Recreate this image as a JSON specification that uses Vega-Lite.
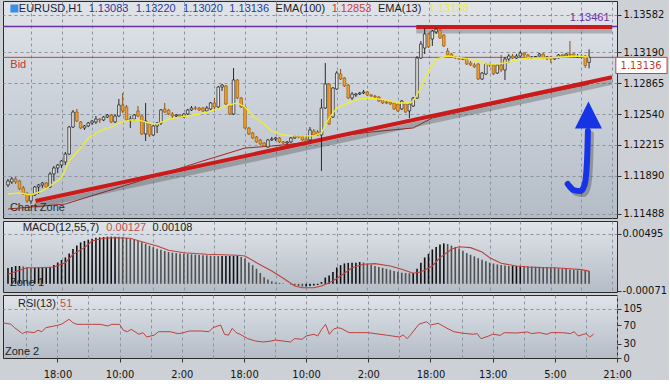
{
"$schema":"https://vega.github.io/schema/vega-lite/v6.json",
"background":"#cdd0d4",
"padding":0,
"spacing":3,
"bounds":"flush",
"config":{
 "view":{"stroke":"#2b2b2b","strokeWidth":1,"fill":{"gradient":"linear","x1":0,"y1":0,"x2":0,"y2":1,"stops":[{"offset":0,"color":"#e0e4e9"},{"offset":1,"color":"#b4bcc6"}]}},
 "axis":{"labelFont":"DejaVu Sans Condensed","labelFontSize":11,"labelColor":"#141414","tickColor":"#333333","tickSize":4,"domain":false,"gridColor":"#8a94a1","gridDash":[3,3],"gridWidth":1,"labelOverlap":false,"labelFlush":false,"labelPadding":2},
 "text":{"font":"Liberation Sans","fontSize":11}
},
"datasets":{
 "candles":[
{"i":-14,"o":1.11793,"h":1.11856,"l":1.11772,"c":1.11835},
{"i":-13,"o":1.11825,"h":1.11877,"l":1.11804,"c":1.11856},
{"i":-12,"o":1.11856,"h":1.11877,"l":1.11804,"c":1.11825},
{"i":-11,"o":1.11835,"h":1.11846,"l":1.11740,"c":1.11751},
{"i":-10,"o":1.11762,"h":1.11783,"l":1.11688,"c":1.11698},
{"i":-9,"o":1.11698,"h":1.11720,"l":1.11604,"c":1.11625},
{"i":-8,"o":1.11625,"h":1.11698,"l":1.11593,"c":1.11688},
{"i":-7,"o":1.11688,"h":1.11783,"l":1.11677,"c":1.11772},
{"i":-6,"o":1.11772,"h":1.11804,"l":1.11698,"c":1.11793},
{"i":-5,"o":1.11793,"h":1.11825,"l":1.11762,"c":1.11814},
{"i":-4,"o":1.11814,"h":1.11825,"l":1.11762,"c":1.11772},
{"i":-3,"o":1.11772,"h":1.11930,"l":1.11762,"c":1.11909},
{"i":-2,"o":1.11909,"h":1.11993,"l":1.11835,"c":1.11972},
{"i":-1,"o":1.11972,"h":1.12014,"l":1.11919,"c":1.12003},
{"i":0,"o":1.12003,"h":1.12056,"l":1.11972,"c":1.12046},
{"i":1,"o":1.12035,"h":1.12140,"l":1.12003,"c":1.12119},
{"i":2,"o":1.12119,"h":1.12414,"l":1.12109,"c":1.12403},
{"i":3,"o":1.12403,"h":1.12582,"l":1.12393,"c":1.12561},
{"i":4,"o":1.12561,"h":1.12593,"l":1.12456,"c":1.12466},
{"i":5,"o":1.12456,"h":1.12466,"l":1.12382,"c":1.12393},
{"i":6,"o":1.12393,"h":1.12424,"l":1.12372,"c":1.12414},
{"i":7,"o":1.12414,"h":1.12456,"l":1.12403,"c":1.12445},
{"i":8,"o":1.12445,"h":1.12477,"l":1.12424,"c":1.12466},
{"i":9,"o":1.12456,"h":1.12519,"l":1.12435,"c":1.12487},
{"i":10,"o":1.12487,"h":1.12498,"l":1.12445,"c":1.12477},
{"i":11,"o":1.12477,"h":1.12519,"l":1.12466,"c":1.12508},
{"i":12,"o":1.12508,"h":1.12540,"l":1.12498,"c":1.12529},
{"i":13,"o":1.12529,"h":1.12540,"l":1.12445,"c":1.12456},
{"i":14,"o":1.12456,"h":1.12540,"l":1.12445,"c":1.12519},
{"i":15,"o":1.12519,"h":1.12698,"l":1.12508,"c":1.12635},
{"i":16,"o":1.12635,"h":1.12761,"l":1.12551,"c":1.12572},
{"i":17,"o":1.12614,"h":1.12635,"l":1.12466,"c":1.12477},
{"i":18,"o":1.12477,"h":1.12519,"l":1.12393,"c":1.12487},
{"i":19,"o":1.12487,"h":1.12540,"l":1.12466,"c":1.12529},
{"i":20,"o":1.12572,"h":1.12624,"l":1.12508,"c":1.12519},
{"i":21,"o":1.12519,"h":1.12529,"l":1.12319,"c":1.12330},
{"i":22,"o":1.12330,"h":1.12656,"l":1.12256,"c":1.12466},
{"i":23,"o":1.12435,"h":1.12445,"l":1.12298,"c":1.12319},
{"i":24,"o":1.12319,"h":1.12424,"l":1.12309,"c":1.12414},
{"i":25,"o":1.12414,"h":1.12456,"l":1.12340,"c":1.12445},
{"i":26,"o":1.12445,"h":1.12593,"l":1.12424,"c":1.12582},
{"i":27,"o":1.12593,"h":1.12656,"l":1.12551,"c":1.12561},
{"i":28,"o":1.12582,"h":1.12593,"l":1.12529,"c":1.12540},
{"i":29,"o":1.12540,"h":1.12561,"l":1.12498,"c":1.12519},
{"i":30,"o":1.12519,"h":1.12540,"l":1.12498,"c":1.12529},
{"i":31,"o":1.12529,"h":1.12540,"l":1.12498,"c":1.12508},
{"i":32,"o":1.12508,"h":1.12551,"l":1.12498,"c":1.12540},
{"i":33,"o":1.12540,"h":1.12593,"l":1.12529,"c":1.12582},
{"i":34,"o":1.12582,"h":1.12624,"l":1.12572,"c":1.12603},
{"i":35,"o":1.12603,"h":1.12624,"l":1.12582,"c":1.12600},
{"i":36,"o":1.12603,"h":1.12614,"l":1.12572,"c":1.12582},
{"i":37,"o":1.12603,"h":1.12614,"l":1.12561,"c":1.12572},
{"i":38,"o":1.12572,"h":1.12624,"l":1.12561,"c":1.12603},
{"i":39,"o":1.12593,"h":1.12666,"l":1.12582,"c":1.12656},
{"i":40,"o":1.12656,"h":1.12708,"l":1.12582,"c":1.12614},
{"i":41,"o":1.12614,"h":1.12835,"l":1.12603,"c":1.12824},
{"i":42,"o":1.12824,"h":1.12856,"l":1.12782,"c":1.12845},
{"i":43,"o":1.12835,"h":1.12845,"l":1.12635,"c":1.12645},
{"i":44,"o":1.12624,"h":1.12635,"l":1.12529,"c":1.12540},
{"i":45,"o":1.12540,"h":1.13024,"l":1.12529,"c":1.12898},
{"i":46,"o":1.12898,"h":1.12908,"l":1.12698,"c":1.12708},
{"i":47,"o":1.12708,"h":1.12719,"l":1.12603,"c":1.12614},
{"i":48,"o":1.12614,"h":1.12624,"l":1.12382,"c":1.12393},
{"i":49,"o":1.12393,"h":1.12403,"l":1.12319,"c":1.12330},
{"i":50,"o":1.12340,"h":1.12351,"l":1.12277,"c":1.12288},
{"i":51,"o":1.12298,"h":1.12309,"l":1.12235,"c":1.12246},
{"i":52,"o":1.12267,"h":1.12277,"l":1.12214,"c":1.12225},
{"i":53,"o":1.12235,"h":1.12246,"l":1.12193,"c":1.12203},
{"i":54,"o":1.12193,"h":1.12277,"l":1.12182,"c":1.12267},
{"i":55,"o":1.12267,"h":1.12298,"l":1.12256,"c":1.12277},
{"i":56,"o":1.12277,"h":1.12298,"l":1.12256,"c":1.12288},
{"i":57,"o":1.12288,"h":1.12298,"l":1.12235,"c":1.12246},
{"i":58,"o":1.12246,"h":1.12256,"l":1.12225,"c":1.12235},
{"i":59,"o":1.12235,"h":1.12256,"l":1.12225,"c":1.12246},
{"i":60,"o":1.12246,"h":1.12298,"l":1.12235,"c":1.12288},
{"i":61,"o":1.12288,"h":1.12319,"l":1.12277,"c":1.12309},
{"i":62,"o":1.12309,"h":1.12319,"l":1.12288,"c":1.12298},
{"i":63,"o":1.12309,"h":1.12319,"l":1.12256,"c":1.12267},
{"i":64,"o":1.12277,"h":1.12319,"l":1.12246,"c":1.12256},
{"i":65,"o":1.12267,"h":1.12403,"l":1.12256,"c":1.12372},
{"i":66,"o":1.12361,"h":1.12382,"l":1.12309,"c":1.12319},
{"i":67,"o":1.12351,"h":1.12372,"l":1.12309,"c":1.12319},
{"i":68,"o":1.12319,"h":1.12698,"l":1.11940,"c":1.12603},
{"i":69,"o":1.12603,"h":1.13077,"l":1.12593,"c":1.12856},
{"i":70,"o":1.12856,"h":1.12866,"l":1.12424,"c":1.12435},
{"i":71,"o":1.12508,"h":1.12824,"l":1.12498,"c":1.12814},
{"i":72,"o":1.12803,"h":1.12992,"l":1.12793,"c":1.12971},
{"i":73,"o":1.12961,"h":1.13014,"l":1.12898,"c":1.12908},
{"i":74,"o":1.12919,"h":1.12929,"l":1.12824,"c":1.12835},
{"i":75,"o":1.12845,"h":1.12856,"l":1.12698,"c":1.12708},
{"i":76,"o":1.12708,"h":1.12772,"l":1.12687,"c":1.12750},
{"i":77,"o":1.12740,"h":1.12761,"l":1.12719,"c":1.12750},
{"i":78,"o":1.12750,"h":1.12772,"l":1.12740,"c":1.12761},
{"i":79,"o":1.12761,"h":1.12793,"l":1.12750,"c":1.12772},
{"i":80,"o":1.12772,"h":1.12782,"l":1.12729,"c":1.12740},
{"i":81,"o":1.12740,"h":1.12750,"l":1.12719,"c":1.12729},
{"i":82,"o":1.12729,"h":1.12740,"l":1.12708,"c":1.12719},
{"i":83,"o":1.12719,"h":1.12729,"l":1.12666,"c":1.12677},
{"i":84,"o":1.12687,"h":1.12698,"l":1.12645,"c":1.12656},
{"i":85,"o":1.12666,"h":1.12677,"l":1.12645,"c":1.12656},
{"i":86,"o":1.12666,"h":1.12677,"l":1.12635,"c":1.12645},
{"i":87,"o":1.12656,"h":1.12666,"l":1.12582,"c":1.12593},
{"i":88,"o":1.12645,"h":1.12656,"l":1.12561,"c":1.12572},
{"i":89,"o":1.12593,"h":1.12687,"l":1.12582,"c":1.12677},
{"i":90,"o":1.12645,"h":1.12656,"l":1.12551,"c":1.12561},
{"i":91,"o":1.12572,"h":1.12656,"l":1.12498,"c":1.12645},
{"i":92,"o":1.12624,"h":1.12719,"l":1.12614,"c":1.12708},
{"i":93,"o":1.12708,"h":1.13150,"l":1.12698,"c":1.13129},
{"i":94,"o":1.13129,"h":1.13308,"l":1.13119,"c":1.13277},
{"i":95,"o":1.13234,"h":1.13445,"l":1.13171,"c":1.13382},
{"i":96,"o":1.13382,"h":1.13392,"l":1.13234,"c":1.13245},
{"i":97,"o":1.13329,"h":1.13424,"l":1.13256,"c":1.13413},
{"i":98,"o":1.13403,"h":1.13445,"l":1.13382,"c":1.13434},
{"i":99,"o":1.13424,"h":1.13434,"l":1.13329,"c":1.13340},
{"i":100,"o":1.13371,"h":1.13382,"l":1.13245,"c":1.13256},
{"i":101,"o":1.13203,"h":1.13234,"l":1.13150,"c":1.13161},
{"i":102,"o":1.13171,"h":1.13182,"l":1.13129,"c":1.13140},
{"i":103,"o":1.13140,"h":1.13150,"l":1.13119,"c":1.13129},
{"i":104,"o":1.13129,"h":1.13140,"l":1.13108,"c":1.13119},
{"i":105,"o":1.13119,"h":1.13129,"l":1.13108,"c":1.13113},
{"i":106,"o":1.13119,"h":1.13129,"l":1.13056,"c":1.13066},
{"i":107,"o":1.13077,"h":1.13098,"l":1.13045,"c":1.13056},
{"i":108,"o":1.13056,"h":1.13077,"l":1.13024,"c":1.13035},
{"i":109,"o":1.13066,"h":1.13077,"l":1.12898,"c":1.12908},
{"i":110,"o":1.12908,"h":1.12982,"l":1.12898,"c":1.12971},
{"i":111,"o":1.12961,"h":1.13077,"l":1.12950,"c":1.13066},
{"i":112,"o":1.13066,"h":1.13077,"l":1.13035,"c":1.13056},
{"i":113,"o":1.13056,"h":1.13066,"l":1.12950,"c":1.12961},
{"i":114,"o":1.12971,"h":1.13066,"l":1.12961,"c":1.13056},
{"i":115,"o":1.13056,"h":1.13161,"l":1.12982,"c":1.13003},
{"i":116,"o":1.13003,"h":1.13140,"l":1.12898,"c":1.13119},
{"i":117,"o":1.13119,"h":1.13171,"l":1.13077,"c":1.13150},
{"i":118,"o":1.13150,"h":1.13171,"l":1.13119,"c":1.13129},
{"i":119,"o":1.13129,"h":1.13171,"l":1.13119,"c":1.13150},
{"i":120,"o":1.13150,"h":1.13203,"l":1.13140,"c":1.13182},
{"i":121,"o":1.13182,"h":1.13192,"l":1.13140,"c":1.13161},
{"i":122,"o":1.13161,"h":1.13171,"l":1.13119,"c":1.13129},
{"i":123,"o":1.13129,"h":1.13150,"l":1.13119,"c":1.13140},
{"i":124,"o":1.13140,"h":1.13150,"l":1.13129,"c":1.13145},
{"i":125,"o":1.13150,"h":1.13182,"l":1.13145,"c":1.13171},
{"i":126,"o":1.13171,"h":1.13182,"l":1.13119,"c":1.13129},
{"i":127,"o":1.13129,"h":1.13150,"l":1.13108,"c":1.13140},
{"i":128,"o":1.13140,"h":1.13150,"l":1.13077,"c":1.13119},
{"i":129,"o":1.13119,"h":1.13134,"l":1.13108,"c":1.13129},
{"i":130,"o":1.13129,"h":1.13171,"l":1.13124,"c":1.13161},
{"i":131,"o":1.13161,"h":1.13171,"l":1.13129,"c":1.13150},
{"i":132,"o":1.13150,"h":1.13182,"l":1.13145,"c":1.13171},
{"i":133,"o":1.13171,"h":1.13308,"l":1.13129,"c":1.13161},
{"i":134,"o":1.13171,"h":1.13182,"l":1.13129,"c":1.13140},
{"i":135,"o":1.13140,"h":1.13171,"l":1.13129,"c":1.13150},
{"i":136,"o":1.13150,"h":1.13171,"l":1.13119,"c":1.13140},
{"i":137,"o":1.13150,"h":1.13160,"l":1.13024,"c":1.13050},
{"i":138,"o":1.13083,"h":1.13220,"l":1.13020,"c":1.13136}
 ],
 "ema13":[
{"i":-14,"v":1.11698},{"i":-11,"v":1.11709},{"i":-8,"v":1.11688},{"i":-5,"v":1.11730},{"i":-3,"v":1.11783},{"i":0,"v":1.11867},{"i":2,"v":1.12046},{"i":5,"v":1.12182},{"i":7,"v":1.12288},{"i":10,"v":1.12361},{"i":13,"v":1.12403},{"i":15,"v":1.12445},{"i":18,"v":1.12477},{"i":20,"v":1.12477},{"i":23,"v":1.12445},{"i":25,"v":1.12435},{"i":28,"v":1.12487},{"i":31,"v":1.12508},{"i":33,"v":1.12519},{"i":36,"v":1.12540},{"i":38,"v":1.12561},{"i":41,"v":1.12593},{"i":43,"v":1.12625},{"i":46,"v":1.12656},{"i":48,"v":1.12614},{"i":50,"v":1.12519},{"i":53,"v":1.12435},{"i":55,"v":1.12361},{"i":58,"v":1.12319},{"i":61,"v":1.12309},{"i":63,"v":1.12309},{"i":66,"v":1.12309},{"i":68,"v":1.12340},{"i":69,"v":1.12424},{"i":70,"v":1.12498},{"i":72,"v":1.12603},{"i":75,"v":1.12656},{"i":78,"v":1.12698},{"i":81,"v":1.12708},{"i":85,"v":1.12687},{"i":88,"v":1.12656},{"i":91,"v":1.12656},{"i":92,"v":1.12677},{"i":94,"v":1.12814},{"i":96,"v":1.12992},{"i":98,"v":1.13119},{"i":101,"v":1.13150},{"i":105,"v":1.13129},{"i":109,"v":1.13098},{"i":111,"v":1.13066},{"i":114,"v":1.13066},{"i":116,"v":1.13077},{"i":119,"v":1.13108},{"i":122,"v":1.13129},{"i":127,"v":1.13129},{"i":131,"v":1.13140},{"i":135,"v":1.13150},{"i":138,"v":1.13138}
 ],
 "ema100":[
{"i":-14,"v":1.11540},{"i":1,"v":1.11593},{"i":12,"v":1.11730},{"i":23,"v":1.11867},{"i":37,"v":1.12046},{"i":48,"v":1.12182},{"i":55,"v":1.12203},{"i":63,"v":1.12235},{"i":71,"v":1.12298},{"i":81,"v":1.12351},{"i":92,"v":1.12393},{"i":97,"v":1.12498},{"i":109,"v":1.12603},{"i":122,"v":1.12719},{"i":138,"v":1.12853}
 ],
 "trend":[{"i":-6.8,"p":1.11625},{"i":144,"p":1.12926}],
 "res":[{"i":92.8,"p":1.13455},{"i":144,"p":1.13455}],
 "arrow":[{"i":132.42,"p":1.11804},{"i":133.97,"p":1.11740},{"i":135.77,"p":1.11730},{"i":136.8,"p":1.11793},{"i":137.31,"p":1.1194},{"i":137.57,"p":1.12151},{"i":137.7,"p":1.12361}],
 "macd":[
{"i":-14,"m":0.00156},{"i":-13,"m":0.00166},{"i":-12,"m":0.00176},{"i":-11,"m":0.00176},{"i":-10,"m":0.00171},{"i":-9,"m":0.00161},{"i":-8,"m":0.00156},{"i":-7,"m":0.00156},{"i":-6,"m":0.00159},{"i":-5,"m":0.00159},{"i":-4,"m":0.00161},{"i":-3,"m":0.00166},{"i":-2,"m":0.00186},{"i":-1,"m":0.0021},{"i":0,"m":0.00235},{"i":1,"m":0.0026},{"i":2,"m":0.00299},{"i":3,"m":0.00344},{"i":4,"m":0.00378},{"i":5,"m":0.00408},{"i":6,"m":0.00423},{"i":7,"m":0.00436},{"i":8,"m":0.00445},{"i":9,"m":0.00454},{"i":10,"m":0.00459},{"i":11,"m":0.00462},{"i":12,"m":0.00465},{"i":13,"m":0.00465},{"i":14,"m":0.00465},{"i":15,"m":0.00464},{"i":16,"m":0.00462},{"i":17,"m":0.00454},{"i":18,"m":0.00445},{"i":19,"m":0.00435},{"i":20,"m":0.00423},{"i":21,"m":0.0041},{"i":22,"m":0.00393},{"i":23,"m":0.00376},{"i":24,"m":0.00361},{"i":25,"m":0.00346},{"i":26,"m":0.00335},{"i":27,"m":0.00324},{"i":28,"m":0.00314},{"i":29,"m":0.00308},{"i":30,"m":0.00303},{"i":31,"m":0.00299},{"i":32,"m":0.00296},{"i":33,"m":0.00294},{"i":34,"m":0.00291},{"i":35,"m":0.00288},{"i":36,"m":0.00285},{"i":37,"m":0.00283},{"i":38,"m":0.00281},{"i":39,"m":0.00278},{"i":40,"m":0.00276},{"i":41,"m":0.00275},{"i":42,"m":0.00275},{"i":43,"m":0.00275},{"i":44,"m":0.00275},{"i":45,"m":0.00275},{"i":46,"m":0.00275},{"i":47,"m":0.00265},{"i":48,"m":0.0025},{"i":49,"m":0.0021},{"i":50,"m":0.00184},{"i":51,"m":0.00149},{"i":52,"m":0.00107},{"i":53,"m":0.00064},{"i":54,"m":0.00042},{"i":55,"m":0.00025},{"i":56,"m":0.00013},{"i":57,"m":0.00008},{"i":58,"m":0.00004},{"i":59,"m":0.00001},{"i":60,"m":-0.00007},{"i":61,"m":-0.00017},{"i":62,"m":-0.00022},{"i":63,"m":-0.00027},{"i":64,"m":-0.00027},{"i":65,"m":-0.00022},{"i":66,"m":-0.00017},{"i":67,"m":-0.00012},{"i":68,"m":0.00018},{"i":69,"m":0.00062},{"i":70,"m":0.00082},{"i":71,"m":0.00117},{"i":72,"m":0.00161},{"i":73,"m":0.00184},{"i":74,"m":0.00201},{"i":75,"m":0.00206},{"i":76,"m":0.00208},{"i":77,"m":0.00209},{"i":78,"m":0.00215},{"i":79,"m":0.00209},{"i":80,"m":0.00198},{"i":81,"m":0.00187},{"i":82,"m":0.00176},{"i":83,"m":0.00166},{"i":84,"m":0.00157},{"i":85,"m":0.00148},{"i":86,"m":0.00138},{"i":87,"m":0.00127},{"i":88,"m":0.00118},{"i":89,"m":0.0011},{"i":90,"m":0.00106},{"i":91,"m":0.00104},{"i":92,"m":0.00108},{"i":93,"m":0.00149},{"i":94,"m":0.00208},{"i":95,"m":0.0026},{"i":96,"m":0.00296},{"i":97,"m":0.00339},{"i":98,"m":0.00364},{"i":99,"m":0.00387},{"i":100,"m":0.00399},{"i":101,"m":0.00393},{"i":102,"m":0.00377},{"i":103,"m":0.00364},{"i":104,"m":0.00349},{"i":105,"m":0.00326},{"i":106,"m":0.00303},{"i":107,"m":0.00286},{"i":108,"m":0.00271},{"i":109,"m":0.00253},{"i":110,"m":0.00237},{"i":111,"m":0.00223},{"i":112,"m":0.00208},{"i":113,"m":0.002},{"i":114,"m":0.00191},{"i":115,"m":0.00185},{"i":116,"m":0.0018},{"i":117,"m":0.00176},{"i":118,"m":0.00176},{"i":119,"m":0.00176},{"i":120,"m":0.00176},{"i":121,"m":0.00175},{"i":122,"m":0.00173},{"i":123,"m":0.00171},{"i":124,"m":0.00169},{"i":125,"m":0.00168},{"i":126,"m":0.00167},{"i":127,"m":0.00166},{"i":128,"m":0.00163},{"i":129,"m":0.00158},{"i":130,"m":0.00153},{"i":131,"m":0.00148},{"i":132,"m":0.00145},{"i":133,"m":0.00141},{"i":134,"m":0.00137},{"i":135,"m":0.00134},{"i":136,"m":0.00132},{"i":137,"m":0.0013},{"i":138,"m":0.00127}
 ],
 "signal":[
{"i":-14,"s":0.00094},{"i":-11,"s":0.00133},{"i":-9,"s":0.00159},{"i":-6,"s":0.00159},{"i":-2,"s":0.00166},{"i":1,"s":0.00208},{"i":3,"s":0.00291},{"i":6,"s":0.00357},{"i":8,"s":0.00423},{"i":11,"s":0.00449},{"i":14,"s":0.00455},{"i":18,"s":0.00449},{"i":21,"s":0.00416},{"i":25,"s":0.00373},{"i":28,"s":0.00331},{"i":32,"s":0.00307},{"i":38,"s":0.00291},{"i":46,"s":0.00282},{"i":48,"s":0.00275},{"i":51,"s":0.00208},{"i":55,"s":0.00126},{"i":58,"s":0.00054},{"i":61,"s":-0.00022},{"i":63,"s":-0.00039},{"i":66,"s":-0.00039},{"i":68,"s":-0.00022},{"i":71,"s":0.00028},{"i":74,"s":0.00104},{"i":76,"s":0.00159},{"i":79,"s":0.00193},{"i":82,"s":0.00199},{"i":86,"s":0.00176},{"i":89,"s":0.00143},{"i":92,"s":0.00104},{"i":94,"s":0.00117},{"i":97,"s":0.00176},{"i":99,"s":0.00258},{"i":102,"s":0.00341},{"i":104,"s":0.00366},{"i":107,"s":0.00357},{"i":110,"s":0.00314},{"i":112,"s":0.00258},{"i":115,"s":0.00203},{"i":119,"s":0.00176},{"i":122,"s":0.00166},{"i":126,"s":0.00159},{"i":129,"s":0.00159},{"i":133,"s":0.00149},{"i":136,"s":0.0014},{"i":138,"s":0.00125}
 ],
 "rsi":[
{"i":-14,"r":75},{"i":-12,"r":72},{"i":-11,"r":64.5},{"i":-9,"r":52},{"i":-8,"r":56},{"i":-6,"r":54},{"i":-5,"r":59},{"i":-4,"r":56},{"i":-3,"r":64.5},{"i":0,"r":69.6},{"i":1,"r":71.7},{"i":3,"r":82.4},{"i":4,"r":75.2},{"i":5,"r":71.7},{"i":7,"r":71.7},{"i":9,"r":71.7},{"i":11,"r":71.7},{"i":13,"r":68.2},{"i":14,"r":71.7},{"i":16,"r":71.7},{"i":17,"r":59},{"i":18,"r":56},{"i":19,"r":61},{"i":21,"r":50.5},{"i":22,"r":54},{"i":23,"r":44.7},{"i":25,"r":49},{"i":26,"r":56},{"i":29,"r":56},{"i":31,"r":52},{"i":32,"r":53},{"i":34,"r":57.5},{"i":37,"r":57.5},{"i":39,"r":56},{"i":40,"r":64.5},{"i":42,"r":70.3},{"i":43,"r":50.5},{"i":44,"r":48.6},{"i":45,"r":63.2},{"i":46,"r":54},{"i":47,"r":50.5},{"i":49,"r":41.2},{"i":51,"r":36.2},{"i":53,"r":34.1},{"i":55,"r":36.2},{"i":56,"r":38.3},{"i":58,"r":36.2},{"i":60,"r":34.1},{"i":61,"r":41.2},{"i":63,"r":40},{"i":64,"r":46.9},{"i":66,"r":50.5},{"i":67,"r":46.9},{"i":68,"r":61.1},{"i":69,"r":71.7},{"i":70,"r":50.5},{"i":71,"r":61.1},{"i":72,"r":64.5},{"i":73,"r":63.2},{"i":75,"r":54},{"i":77,"r":54},{"i":80,"r":54},{"i":83,"r":50.5},{"i":85,"r":48.3},{"i":88,"r":44.7},{"i":89,"r":49},{"i":90,"r":41.2},{"i":91,"r":50.5},{"i":93,"r":71.7},{"i":94,"r":74.5},{"i":95,"r":77.3},{"i":96,"r":70.3},{"i":98,"r":73.8},{"i":100,"r":64.5},{"i":102,"r":56},{"i":104,"r":53.2},{"i":107,"r":50.5},{"i":108,"r":52},{"i":109,"r":41.2},{"i":111,"r":46.9},{"i":112,"r":50.5},{"i":114,"r":48.3},{"i":115,"r":54},{"i":118,"r":53.2},{"i":121,"r":55.4},{"i":122,"r":52},{"i":124,"r":54},{"i":126,"r":50.5},{"i":127,"r":54},{"i":130,"r":54},{"i":132,"r":52},{"i":133,"r":56},{"i":134,"r":46.9},{"i":136,"r":52},{"i":137,"r":44.7},{"i":138,"r":51}
 ]
},
"vconcat":[
 {
  "width":614,"height":217,
  "resolve":{"axis":{"x":"independent","y":"independent"}},
  "layer":[
   {"data":{"name":"candles"},"mark":{"type":"bar","width":2.6,"strokeWidth":0.7,"opacity":0},"encoding":{
     "x":{"field":"i","type":"quantitative","scale":{"domain":[-14,144],"nice":false,"zero":false},"axis":{"orient":"bottom","values":[-8,0,8,16,24,32,40,48,56,64,72,80,88,96,104,112,120,128,136,144],"labels":false,"ticks":false,"domain":false,"grid":true,"labelOverlap":false,"title":null}},
     "y":{"field":"o","type":"quantitative","scale":{"domain":[1.114457,1.13729],"nice":false,"zero":false},"axis":{"orient":"right","values":[1.13582,1.1319,1.12865,1.1254,1.12215,1.1189,1.11488],"format":".5f","grid":true,"labelOverlap":false,"labelPadding":2,"title":null}},
     "y2":{"field":"c"}}},
   {"data":{"values":[{}]},"mark":{"type":"rule","color":"#6b2fa0","strokeWidth":1.5},"encoding":{"y":{"datum":1.13461,"type":"quantitative","axis":null}}},
   {"data":{"values":[{}]},"mark":{"type":"rule","color":"#c8423c","strokeWidth":1},"encoding":{"y":{"datum":1.13136,"type":"quantitative","axis":null}}},
   {"data":{"name":"ema100"},"mark":{"type":"line","color":"#a02828","strokeWidth":1},"encoding":{"x":{"field":"i","type":"quantitative","axis":null},"y":{"field":"v","type":"quantitative","axis":null}}},
   {"data":{"name":"trend"},"mark":{"type":"line","color":"#3a3a3a","opacity":0.3,"strokeWidth":5,"yOffset":5},"encoding":{"x":{"field":"i","type":"quantitative","axis":null},"y":{"field":"p","type":"quantitative","axis":null}}},
   {"data":{"name":"trend"},"mark":{"type":"line","color":"#cc1a1a","strokeWidth":4},"encoding":{"x":{"field":"i","type":"quantitative","axis":null},"y":{"field":"p","type":"quantitative","axis":null}}},
   {"data":{"name":"res"},"mark":{"type":"line","color":"#3a3a3a","opacity":0.3,"strokeWidth":5,"yOffset":4},"encoding":{"x":{"field":"i","type":"quantitative","axis":null},"y":{"field":"p","type":"quantitative","axis":null}}},
   {"data":{"name":"res"},"mark":{"type":"line","color":"#cc1a1a","strokeWidth":4},"encoding":{"x":{"field":"i","type":"quantitative","axis":null},"y":{"field":"p","type":"quantitative","axis":null}}},
   {"data":{"name":"candles"},"mark":{"type":"rule","strokeWidth":1},"encoding":{"x":{"field":"i","type":"quantitative","axis":null},"y":{"field":"l","type":"quantitative","axis":null},"y2":{"field":"h"},"color":{"condition":{"test":"datum.c >= datum.o","value":"#2a2a2a"},"value":"#8a5210"}}},
   {"data":{"name":"candles"},"mark":{"type":"bar","width":2.6,"strokeWidth":0.7},"encoding":{
     "x":{"field":"i","type":"quantitative","axis":null},
     "y":{"field":"o","type":"quantitative","axis":null},
     "y2":{"field":"c"},
     "fill":{"condition":{"test":"datum.c >= datum.o","value":"#e4e4e4"},"value":"#f0a030"},
     "stroke":{"condition":{"test":"datum.c >= datum.o","value":"#1a1a1a"},"value":"#9a5a10"}}},
   {"data":{"name":"ema13"},"mark":{"type":"line","color":"#f2ee2a","strokeWidth":1.3},"encoding":{"x":{"field":"i","type":"quantitative","axis":null},"y":{"field":"v","type":"quantitative","axis":null}}},
   {"data":{"name":"arrow"},"mark":{"type":"line","color":"#000000","opacity":0.25,"strokeWidth":6,"strokeCap":"round","interpolate":"monotone","xOffset":3,"yOffset":3},"encoding":{"x":{"field":"i","type":"quantitative","axis":null},"y":{"field":"p","type":"quantitative","axis":null}}},
   {"data":{"name":"arrow"},"mark":{"type":"line","color":"#1733e6","strokeWidth":6,"strokeCap":"round","interpolate":"monotone"},"encoding":{"x":{"field":"i","type":"quantitative","axis":null},"y":{"field":"p","type":"quantitative","axis":null}}},
   {"data":{"values":[{}]},"mark":{"type":"point","shape":"M0,-1L1,1L-1,1Z","size":729,"filled":true,"color":"#1733e6","opacity":1},"encoding":{"x":{"datum":137.83,"type":"quantitative","axis":null},"y":{"datum":1.12529,"type":"quantitative","axis":null}}},
   {"data":{"values":[{}]},"mark":{"type":"point","shape":"square","size":64,"filled":true,"color":"#3a8fe0","opacity":1},"encoding":{"x":{"datum":-12.33,"type":"quantitative","axis":null},"y":{"datum":1.1365,"type":"quantitative","axis":null}}},
   {"data":{"values":[{}]},"mark":{"type":"text","text":"EURUSD,H1","align":"left","baseline":"middle","color":"#1c2040"},"encoding":{"x":{"datum":-11.17,"type":"quantitative","axis":null},"y":{"datum":1.13642,"type":"quantitative","axis":null}}},
   {"data":{"values":[{}]},"mark":{"type":"text","text":"1.13083","align":"left","baseline":"middle","color":"#2a3a9c"},"encoding":{"x":{"datum":7.1,"type":"quantitative","axis":null},"y":{"datum":1.13642,"type":"quantitative","axis":null}}},
   {"data":{"values":[{}]},"mark":{"type":"text","text":"1.13220","align":"left","baseline":"middle","color":"#2a3a9c"},"encoding":{"x":{"datum":19.45,"type":"quantitative","axis":null},"y":{"datum":1.13642,"type":"quantitative","axis":null}}},
   {"data":{"values":[{}]},"mark":{"type":"text","text":"1.13020","align":"left","baseline":"middle","color":"#2a3a9c"},"encoding":{"x":{"datum":31.8,"type":"quantitative","axis":null},"y":{"datum":1.13642,"type":"quantitative","axis":null}}},
   {"data":{"values":[{}]},"mark":{"type":"text","text":"1.13136","align":"left","baseline":"middle","color":"#2a3a9c"},"encoding":{"x":{"datum":43.9,"type":"quantitative","axis":null},"y":{"datum":1.13642,"type":"quantitative","axis":null}}},
   {"data":{"values":[{}]},"mark":{"type":"text","text":"EMA(100)","align":"left","baseline":"middle","color":"#222222"},"encoding":{"x":{"datum":56,"type":"quantitative","axis":null},"y":{"datum":1.13642,"type":"quantitative","axis":null}}},
   {"data":{"values":[{}]},"mark":{"type":"text","text":"1.12853","align":"left","baseline":"middle","color":"#c8403c"},"encoding":{"x":{"datum":70.66,"type":"quantitative","axis":null},"y":{"datum":1.13642,"type":"quantitative","axis":null}}},
   {"data":{"values":[{}]},"mark":{"type":"text","text":"EMA(13)","align":"left","baseline":"middle","color":"#222222"},"encoding":{"x":{"datum":82.76,"type":"quantitative","axis":null},"y":{"datum":1.13642,"type":"quantitative","axis":null}}},
   {"data":{"values":[{}]},"mark":{"type":"text","text":"1.13138","align":"left","baseline":"middle","color":"#eeee22"},"encoding":{"x":{"datum":96.14,"type":"quantitative","axis":null},"y":{"datum":1.13642,"type":"quantitative","axis":null}}},
   {"data":{"values":[{}]},"mark":{"type":"text","text":"1.13461","align":"right","baseline":"middle","color":"#6b2fa0"},"encoding":{"x":{"datum":143.36,"type":"quantitative","axis":null},"y":{"datum":1.13553,"type":"quantitative","axis":null}}},
   {"data":{"values":[{}]},"mark":{"type":"text","text":"Bid","align":"left","baseline":"middle","color":"#c0392b"},"encoding":{"x":{"datum":-13.4,"type":"quantitative","axis":null},"y":{"datum":1.13056,"type":"quantitative","axis":null}}},
   {"data":{"values":[{}]},"mark":{"type":"text","text":"Chart Zone","align":"left","baseline":"middle","color":"#2a2a2a"},"encoding":{"x":{"datum":-13.5,"type":"quantitative","axis":null},"y":{"datum":1.11554,"type":"quantitative","axis":null}}},
   {"data":{"values":[{}]},"mark":{"type":"rect","fill":"#ffffff","stroke":"#c8423c","strokeWidth":1},"encoding":{"x":{"datum":145,"type":"quantitative","axis":null},"x2":{"datum":158.4},"y":{"datum":1.13136,"type":"quantitative","axis":null},"y2":{"datum":1.12966}}},
   {"data":{"values":[{}]},"mark":{"type":"text","text":"1.13136","align":"center","baseline":"middle","color":"#c0392b","font":"DejaVu Sans Condensed","fontSize":11},"encoding":{"x":{"datum":151.6,"type":"quantitative","axis":null},"y":{"datum":1.1305,"type":"quantitative","axis":null}}}
  ]
 },
 {
  "width":614,"height":71,
  "resolve":{"axis":{"x":"independent","y":"independent"}},
  "layer":[
   {"data":{"name":"macd"},"transform":[{"window":[{"op":"lag","field":"m","as":"pm"}],"sort":[{"field":"i","order":"ascending"}]}],
    "mark":{"type":"bar","orient":"vertical","width":1.6},
    "encoding":{
     "x":{"field":"i","type":"quantitative","scale":{"domain":[-14,144],"nice":false,"zero":false},"axis":{"orient":"bottom","values":[-8,0,8,16,24,32,40,48,56,64,72,80,88,96,104,112,120,128,136,144],"labels":false,"ticks":false,"domain":false,"grid":true,"labelOverlap":false,"title":null}},
     "y":{"field":"m","type":"quantitative","scale":{"domain":[-0.00081,0.0062],"nice":false,"zero":false},"axis":{"orient":"right","values":[0.00495,-0.00071],"labelExpr":"datum.value < 0 ? '-' + format(-datum.value, '.5f') : format(datum.value, '.5f')","grid":true,"labelOverlap":false,"labelPadding":1,"gridOpacity":{"condition":{"test":"datum.value > 0","value":1},"value":0},"title":null}},
     "color":{"condition":{"test":"datum.pm == null || datum.m >= datum.pm","value":"#111111"},"value":"#505050"}}},
   {"data":{"name":"signal"},"mark":{"type":"line","color":"#c0403c","strokeWidth":1.1},"encoding":{"x":{"field":"i","type":"quantitative","axis":null},"y":{"field":"s","type":"quantitative","axis":null}}},
   {"data":{"values":[{}]},"mark":{"type":"text","text":"MACD(12,55,7)","align":"left","baseline":"middle","color":"#222222"},"encoding":{"x":{"datum":-10.14,"type":"quantitative","axis":null},"y":{"datum":0.00551,"type":"quantitative","axis":null}}},
   {"data":{"values":[{}]},"mark":{"type":"text","text":"0.00127","align":"left","baseline":"middle","color":"#c0504d"},"encoding":{"x":{"datum":11.73,"type":"quantitative","axis":null},"y":{"datum":0.00551,"type":"quantitative","axis":null}}},
   {"data":{"values":[{}]},"mark":{"type":"text","text":"0.00108","align":"left","baseline":"middle","color":"#222222"},"encoding":{"x":{"datum":23.83,"type":"quantitative","axis":null},"y":{"datum":0.00551,"type":"quantitative","axis":null}}},
   {"data":{"values":[{}]},"mark":{"type":"text","text":"Zone 1","align":"left","baseline":"middle","color":"#222222"},"encoding":{"x":{"datum":-13.5,"type":"quantitative","axis":null},"y":{"datum":0.00011,"type":"quantitative","axis":null}}}
  ]
 },
 {
  "width":614,"height":63,
  "resolve":{"axis":{"x":"independent","y":"independent"}},
  "layer":[
   {"data":{"name":"rsi"},"mark":{"type":"line","color":"#c0403c","strokeWidth":1},
    "encoding":{
     "x":{"field":"i","type":"quantitative","scale":{"domain":[-14,144],"nice":false,"zero":false},"axis":{"orient":"bottom","values":[-8,0,8,16,24,32,40,48,56,64,72,80,88,96,104,112,120,128,136,144],"labelExpr":"datum.value % 16 == 0 ? ['18:00','10:00','2:00','18:00','10:00','2:00','18:00','13:00','5:00','21:00'][datum.value / 16] : ''","tickOpacity":{"condition":{"test":"datum.value % 16 != 0","value":0},"value":1},"domain":false,"grid":true,"labelOverlap":false,"labelPadding":6,"title":null}},
     "y":{"field":"r","type":"quantitative","scale":{"domain":[0,134.2],"nice":false,"zero":false},"axis":{"orient":"right","values":[105,70,30,0],"grid":true,"labelOverlap":false,"gridOpacity":{"condition":{"test":"datum.value == 105","value":1},"value":0},"title":null}}}},
   {"data":{"values":[{}]},"mark":{"type":"text","text":"RSI(13)","align":"left","baseline":"middle","color":"#222222"},"encoding":{"x":{"datum":-10.14,"type":"quantitative","axis":null},"y":{"datum":115,"type":"quantitative","axis":null}}},
   {"data":{"values":[{}]},"mark":{"type":"text","text":"51","align":"left","baseline":"middle","color":"#c0504d"},"encoding":{"x":{"datum":0.67,"type":"quantitative","axis":null},"y":{"datum":115,"type":"quantitative","axis":null}}},
   {"data":{"values":[{}]},"mark":{"type":"text","text":"Zone 2","align":"left","baseline":"middle","color":"#222222"},"encoding":{"x":{"datum":-13.5,"type":"quantitative","axis":null},"y":{"datum":12.8,"type":"quantitative","axis":null}}}
  ]
 }
]
}
